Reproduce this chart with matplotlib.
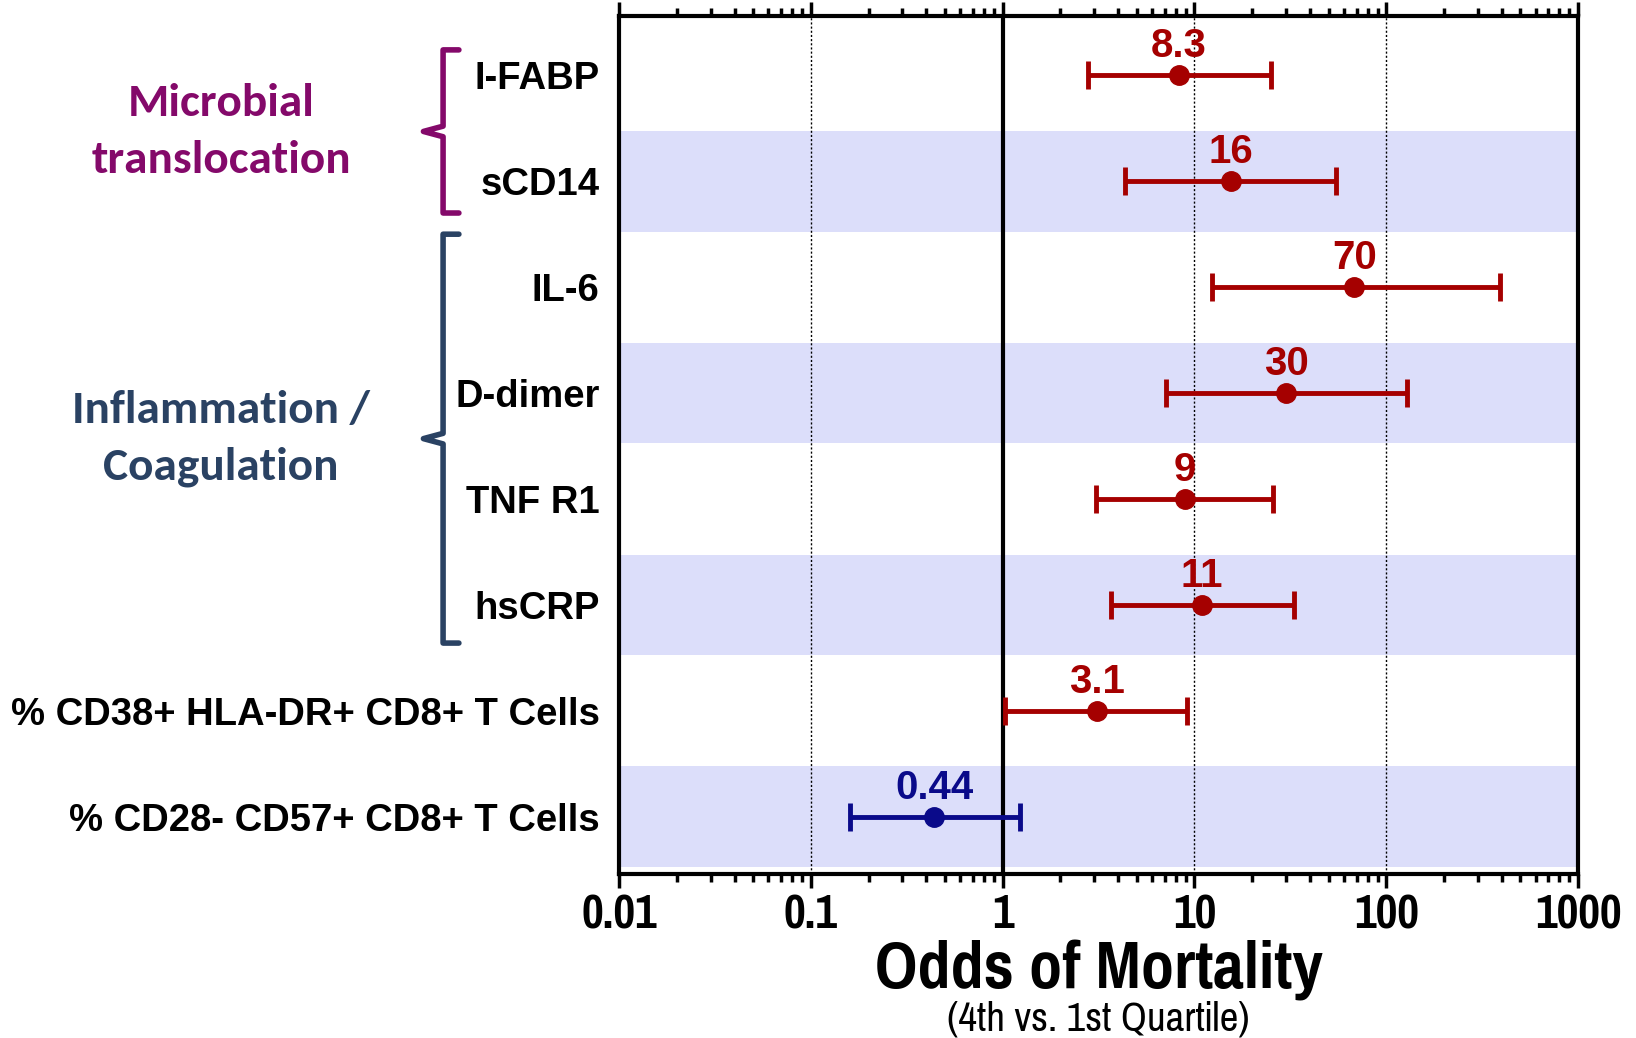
import numpy as np
import matplotlib
matplotlib.use('Agg')
import matplotlib.pyplot as plt
from matplotlib.path import Path
from matplotlib.patches import PathPatch
import matplotlib.transforms as mtransforms
from matplotlib.ticker import LogLocator, NullFormatter, FixedLocator, FixedFormatter

# --- data ---
markers = ['I-FABP', 'sCD14', 'IL-6', 'D-dimer', 'TNF R1', 'hsCRP',
           '% CD38+ HLA-DR+ CD8+ T Cells', '% CD28- CD57+ CD8+ T Cells']
odds = [8.3, 15.5, 68, 30, 8.9, 10.9, 3.1, 0.44]
ci_low = [2.8, 4.35, 12.3, 7.1, 3.05, 3.65, 1.03, 0.16]
ci_high = [25, 55, 390, 128, 25.8, 33, 9.1, 1.23]
value_labels = ['8.3', '16', '70', '30', '9', '11', '3.1', '0.44']
tick_values = [0.01, 0.1, 1, 10, 100, 1000]
tick_labels = ['0.01', '0.1', '1', '10', '100', '1000']

groups = ['Microbial\ntranslocation', 'Inflammation /\nCoagulation']
group_span = [(-0.24, 1.3), (1.5, 5.36)]
group_colors = ['#84096A', '#2A4263']

RED = '#A50000'
BLUE = '#0A0A8A'
BAND = '#DCDEFA'
narrow = ['Pragati Narrow', 'PT Sans Narrow', 'DejaVu Sans']
arial = ['Liberation Sans', 'DejaVu Sans']
calibri = ['Carlito', 'Lato', 'DejaVu Sans']

fig = plt.figure(figsize=(16.36, 10.38), dpi=100)
ax = fig.add_axes([0.3784, 0.158, 0.5862, 0.8266])

ypos = np.arange(len(markers))

# shaded bands on every other row
for i in ypos:
    if i % 2 == 1:
        ax.axhspan(i - 0.475, i + 0.475, color=BAND, lw=0, zorder=0)

# reference lines
for v in [0.1, 10, 100]:
    ax.axvline(v, color='black', lw=1.0, ls=(0, (1.5, 1.5)), zorder=1)
ax.axvline(1, color='black', lw=3.0, zorder=2)

for i in ypos:
    c = BLUE if odds[i] < 1 else RED
    ax.errorbar(odds[i], i, xerr=[[odds[i] - ci_low[i]], [ci_high[i] - odds[i]]],
                fmt='o', color=c, ms=14, lw=3.5, capsize=10, capthick=3.5, zorder=4)
    ax.annotate(value_labels[i], (odds[i], i), xytext=(0, 21), textcoords='offset points',
                ha='center', va='center', color=c, fontsize=29, fontweight='bold',
                family=arial, zorder=5)

ax.set_xscale('log')
ax.set_xlim(0.01, 1000)
ax.set_ylim(7.54, -0.56)

ax.xaxis.set_major_locator(FixedLocator(tick_values))
ax.xaxis.set_major_formatter(FixedFormatter(tick_labels))
ax.xaxis.set_minor_locator(LogLocator(base=10, subs=np.arange(2, 10), numticks=20))
ax.xaxis.set_minor_formatter(NullFormatter())
ax.tick_params(axis='x', which='both', top=True, bottom=True, direction='out', width=2.5, color='black')
ax.tick_params(axis='x', which='major', length=10, pad=4)
ax.tick_params(axis='x', which='minor', length=6)
for lab in ax.get_xticklabels():
    lab.set_family(narrow)
    lab.set_fontweight('bold')
    lab.set_fontsize(37)

ax.set_yticks(ypos)
ax.set_yticklabels(markers, fontsize=27.5, fontweight='bold', family=arial)
ax.tick_params(axis='y', which='both', length=0, pad=14)

for sp in ax.spines.values():
    sp.set_linewidth(3)

ax.set_xlabel('Odds of Mortality', fontsize=52, fontweight='bold', family=narrow, va='center')
ax.xaxis.set_label_coords(0.5, -0.113)
ax.text(0.5, -0.169, '(4th vs. 1st Quartile)', transform=ax.transAxes, ha='center', va='center',
        fontsize=32, family=narrow)

# group brackets and labels
trans = mtransforms.blended_transform_factory(ax.transAxes, ax.transData)
bx, serif, tip = -0.1835, -0.167, -0.204
for name, (y0, y1), col in zip(groups, group_span, group_colors):
    ym = (y0 + y1) / 2
    verts = [(serif, y0), (bx, y0), (bx, ym - 0.05), (tip, ym), (bx, ym + 0.05), (bx, y1), (serif, y1)]
    codes = [Path.MOVETO] + [Path.LINETO] * 6
    ax.add_patch(PathPatch(Path(verts, codes), fill=False, edgecolor=col, lw=4,
                           joinstyle='round', capstyle='round', transform=trans, clip_on=False))
    ax.text(-0.415, ym, name, transform=trans, ha='center', va='center', color=col,
            fontsize=34, fontweight='bold', family=calibri, linespacing=1.5)

fig.savefig('out.png', dpi=100)
